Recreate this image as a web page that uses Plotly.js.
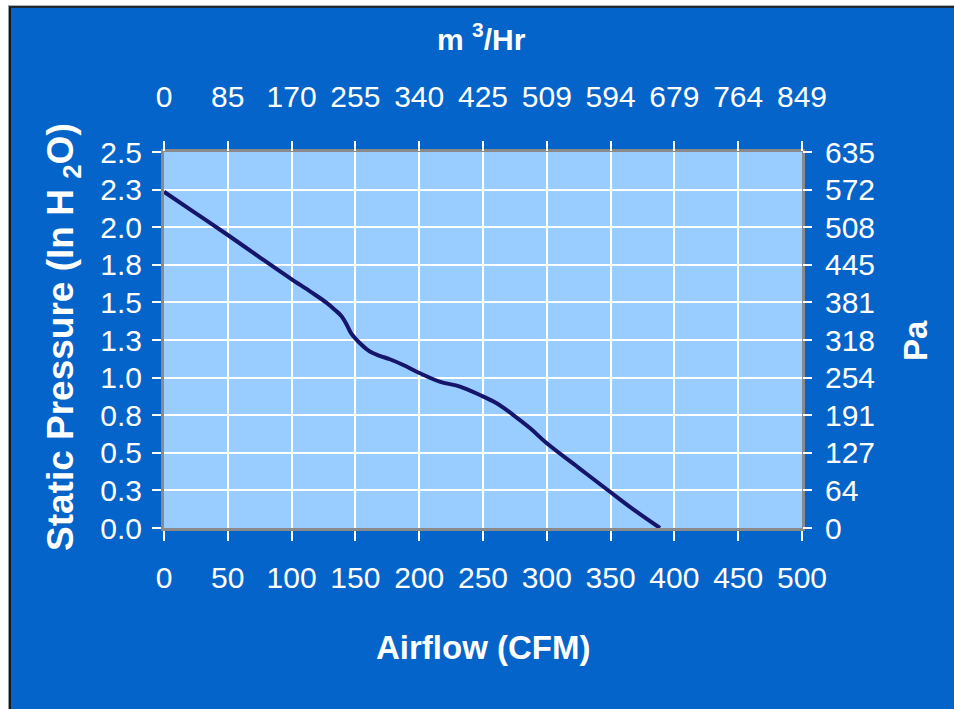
<!DOCTYPE html>
<html>
<head>
<meta charset="utf-8">
<script src="https://cdn.plot.ly/plotly-3.0.1.min.js"></script>
<style>
  html, body { margin: 0; padding: 0; background: #ffffff; width: 954px; height: 709px; overflow: hidden; }
  #frame { position: absolute; left: 8px; top: 5px; width: 946px; height: 704px;
           border-left: 1px solid #9a9a9a; border-top: 1px solid #b0b0b0; box-sizing: border-box; }
  #inner { position: absolute; left: 0; top: 0; right: 0; bottom: 0;
           border-left: 2px solid #101820; border-top: 2px solid #202830; box-sizing: border-box; }
  #chart { position: absolute; left: 11px; top: 8px; width: 943px; height: 701px; }
</style>
</head>
<body>
<div id="frame"><div id="inner"></div></div>
<div id="chart"></div>
<script>
// Fan curve data
const airflowCFM = [0, 25, 50, 75, 99, 115, 127, 134, 139, 143, 147, 153.6, 161, 169, 177, 187.5, 200.6, 216, 232, 247.6, 260.7, 273.8, 287, 300, 325, 349.5, 370, 388.7];
const pressureInH2O = [2.236, 2.092, 1.948, 1.80, 1.66, 1.57, 1.50, 1.45, 1.41, 1.355, 1.29, 1.228, 1.175, 1.145, 1.122, 1.084, 1.029, 0.973, 0.94, 0.884, 0.829, 0.751, 0.663, 0.563, 0.40, 0.241, 0.11, 0];

// Axis ticks
const cfmTicks = [0, 50, 100, 150, 200, 250, 300, 350, 400, 450, 500];
const m3hrLabels = ['0', '85', '170', '255', '340', '425', '509', '594', '679', '764', '849'];
const pressureTicks = [0, 0.25, 0.5, 0.75, 1.0, 1.25, 1.5, 1.75, 2.0, 2.25, 2.5];
const pressureLabels = ['0.0', '0.3', '0.5', '0.8', '1.0', '1.3', '1.5', '1.8', '2.0', '2.3', '2.5'];
const paLabels = ['0', '64', '127', '191', '254', '318', '381', '445', '508', '572', '635'];

const BG = '#0564ca';
const tickFont = { family: 'Liberation Sans, Arial, sans-serif', size: 30, color: '#ffffff' };
const titleBase = { family: 'Liberation Sans, Arial, sans-serif', color: '#ffffff', weight: 'bold' };

const traces = [
  {
    x: airflowCFM, y: pressureInH2O, type: 'scatter', mode: 'lines',
    line: { color: '#15156c', width: 4, shape: 'spline', smoothing: 1 },
    hoverinfo: 'x+y', showlegend: false
  },
  {
    x: airflowCFM, y: pressureInH2O, xaxis: 'x2', yaxis: 'y2', type: 'scatter', mode: 'lines',
    line: { color: 'rgba(0,0,0,0)', width: 0 }, hoverinfo: 'skip', showlegend: false
  }
];

const baseX = {
  range: [0, 500], tickvals: cfmTicks, showgrid: true, gridcolor: '#ffffff', gridwidth: 2,
  ticks: 'outside', ticklen: 10, tickwidth: 2, tickcolor: '#ffffff', tickfont: tickFont,
  zeroline: false, fixedrange: true
};
const baseY = {
  range: [0, 2.5], tickvals: pressureTicks, showgrid: true, gridcolor: '#ffffff', gridwidth: 2,
  ticks: 'outside', ticklen: 9, tickwidth: 2, tickcolor: '#ffffff', tickfont: tickFont,
  zeroline: false, fixedrange: true
};

const layout = {
  width: 943, height: 701,
  margin: { l: 153, r: 152, t: 144, b: 181, pad: 0 },
  paper_bgcolor: BG, plot_bgcolor: '#99ccff',
  showlegend: false,
  xaxis: Object.assign({}, baseX, {
    ticktext: cfmTicks.map(String), showline: true, linecolor: '#8a8a8a', linewidth: 3, mirror: true,
    ticklabelstandoff: 11
  }),
  xaxis2: Object.assign({}, baseX, {
    overlaying: 'x', side: 'top', ticktext: m3hrLabels, showgrid: false, showline: false,
    ticklabelstandoff: 22
  }),
  yaxis: Object.assign({}, baseY, {
    ticktext: pressureLabels, showline: true, linecolor: '#8a8a8a', linewidth: 3, mirror: true,
    ticklabelstandoff: 4
  }),
  yaxis2: Object.assign({}, baseY, {
    overlaying: 'y', side: 'right', anchor: 'x', ticktext: paLabels, showgrid: false, showline: false,
    ticklabelstandoff: 7
  }),
  annotations: [
    { text: 'Static Pressure (In H <sub>2</sub>O)', xref: 'paper', yref: 'paper', x: -0.1583, y: 0.508,
      xanchor: 'center', yanchor: 'middle', textangle: -90, showarrow: false,
      font: Object.assign({ size: 37 }, titleBase) },
    { text: 'm <sup>3</sup>/Hr', xref: 'paper', yref: 'paper', x: 0.497, y: 1.305,
      xanchor: 'center', yanchor: 'middle', showarrow: false,
      font: Object.assign({ size: 30 }, titleBase) },
    { text: 'Airflow (CFM)', xref: 'paper', yref: 'paper', x: 0.5, y: -0.319,
      xanchor: 'center', yanchor: 'middle', showarrow: false,
      font: Object.assign({ size: 33 }, titleBase) },
    { text: 'Pa', xref: 'paper', yref: 'paper', x: 1.177, y: 0.5,
      xanchor: 'center', yanchor: 'middle', textangle: -90, showarrow: false,
      font: Object.assign({ size: 33 }, titleBase) }
  ]
};

Plotly.newPlot('chart', traces, layout, { displayModeBar: false });
</script>
</body>
</html>
